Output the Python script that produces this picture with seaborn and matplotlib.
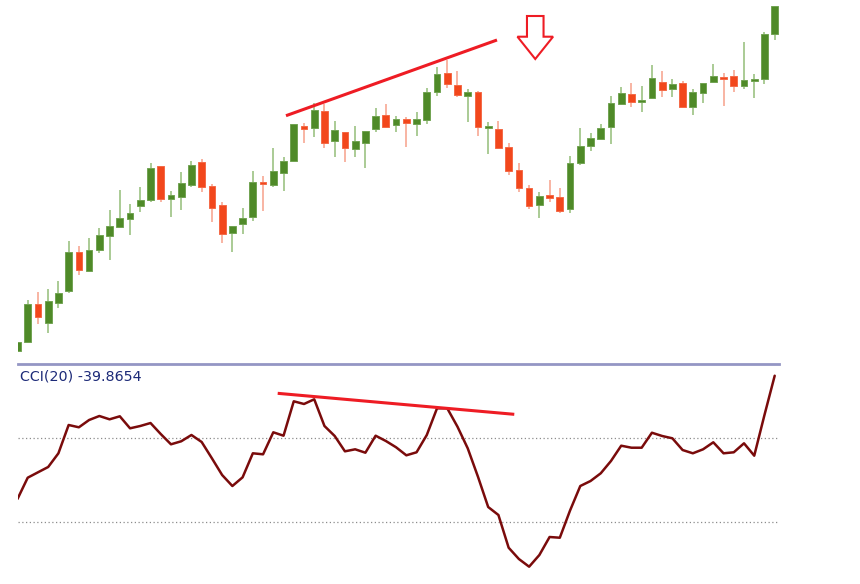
import numpy as np
import pandas as pd
import matplotlib
matplotlib.use("Agg")
import matplotlib.pyplot as plt
from matplotlib.patches import Polygon
import seaborn as sns

# ---------------- data (arbitrary price units) ----------------
opens = [9.5, 17.7, 56.0, 37.3, 56.7, 69.3, 107.7, 89.0, 110.3, 124.3,
         132.7, 140.7, 153.7, 160.0, 194.0, 160.7, 163.3, 175.0, 197.7, 174.3,
         155.3, 126.7, 136.3, 142.7, 176.7, 175.0, 187.0, 199.3, 234.0, 231.7,
         249.0, 219.0, 228.0, 211.3, 217.0, 230.7, 244.7, 234.7, 240.7, 236.0,
         240.3, 267.7, 287.3, 275.3, 264.0, 268.3, 232.3, 230.7, 212.7, 190.0,
         172.0, 155.0, 165.3, 162.7, 151.0, 196.7, 214.0, 221.3, 232.7, 255.7,
         266.3, 257.7, 261.7, 278.0, 271.0, 277.3, 252.7, 266.7, 277.7, 283.3,
         284.3, 274.0, 278.7, 281.3, 325.7]
highs = [18.5, 60.0, 68.3, 71.0, 79.0, 119.3, 114.0, 121.7, 132.0, 149.7,
         170.0, 155.7, 173.3, 197.3, 194.0, 169.0, 188.3, 199.0, 200.7, 175.7,
         157.7, 133.7, 152.3, 189.0, 184.0, 211.7, 203.3, 236.0, 236.7, 256.7,
         256.0, 239.3, 228.0, 234.0, 229.3, 251.7, 255.7, 244.0, 243.3, 248.3,
         271.7, 293.3, 300.0, 289.0, 270.7, 269.3, 238.3, 239.0, 216.7, 196.7,
         175.0, 168.3, 180.0, 171.7, 204.5, 231.7, 227.3, 235.7, 264.0, 272.7,
         277.3, 274.0, 295.0, 289.3, 280.7, 279.0, 271.0, 277.3, 295.7, 287.3,
         290.0, 317.7, 286.0, 328.0, 354.3]
lows = [9.0, 17.0, 36.0, 27.3, 51.7, 67.3, 85.0, 88.3, 107.3, 100.3,
        131.7, 125.0, 148.3, 158.3, 158.3, 143.3, 150.0, 173.3, 168.3, 137.7,
        116.7, 107.7, 126.0, 139.0, 149.0, 173.3, 169.3, 197.7, 217.3, 222.7,
        212.3, 203.3, 197.7, 203.3, 192.3, 228.3, 231.7, 227.7, 213.3, 224.0,
        236.0, 264.3, 271.7, 263.3, 238.3, 224.3, 206.0, 210.7, 185.0, 168.3,
        150.7, 141.7, 158.3, 146.7, 147.5, 195.0, 209.3, 220.7, 215.7, 255.0,
        252.7, 248.3, 261.0, 263.3, 262.7, 251.7, 245.0, 256.7, 277.3, 254.0,
        268.3, 270.7, 261.7, 276.0, 320.0]
closes = [18.3, 56.0, 42.7, 59.0, 67.3, 108.0, 89.7, 110.0, 124.7, 133.7,
          142.3, 147.0, 159.7, 192.3, 160.7, 165.0, 176.7, 195.0, 173.3, 152.3,
          126.0, 133.7, 142.3, 177.7, 176.0, 189.3, 199.3, 236.0, 231.0, 250.0,
          216.7, 230.3, 211.7, 219.3, 229.3, 244.0, 232.7, 240.7, 236.7, 240.7,
          268.3, 286.0, 276.0, 264.7, 267.7, 232.7, 233.7, 211.7, 189.3, 171.7,
          154.0, 164.3, 162.3, 149.3, 196.7, 214.0, 222.0, 232.3, 257.3, 266.7,
          258.3, 259.7, 281.7, 269.7, 276.3, 253.3, 267.7, 276.7, 284.3, 281.3,
          274.0, 280.0, 280.7, 325.7, 354.3]
cci = [-44.5, 6.2, 19.0, 31.7, 64.3, 131.7, 126.2, 143.6, 153.1, 145.2,
       152.4, 123.8, 129.3, 136.4, 110.2, 85.7, 92.9, 107.9, 91.2, 52.4,
       12.6, -13.6, 7.1, 64.3, 61.9, 114.3, 106.2, 188.1, 181.7, 192.9,
       129.3, 105.5, 69.0, 73.8, 65.7, 106.2, 93.6, 78.6, 59.5, 66.7,
       107.9, 171.4, 171.4, 127.6, 76.2, 8.6, -63.6, -82.6, -160.5, -187.4,
       -205.7, -177.9, -135.0, -136.7, -71.9, -13.6, -1.7, 16.7, 46.0, 82.4,
       77.6, 77.6, 113.3, 105.5, 100.0, 72.1, 64.3, 73.8, 90.5, 64.3,
       66.7, 88.1, 58.6, 155.5, 249.0]
cci_label = "CCI(20) -39.8654"
cci_levels = [100, -100]

# annotations (data units: candle index, price / CCI value)
price_trend_x = [26.24, 46.86]
price_trend_y = [244.3, 320.0]
cci_trend_x = [25.43, 48.55]
cci_trend_y = [207.1, 157.1]
arrow_center = 50.6
arrow_top, arrow_neck, arrow_tip = 344.0, 323.3, 301.0
arrow_shaft_half, arrow_head_half = 0.81, 1.74

# ---------------- styling ----------------
sns.set_theme(style="white")
plt.rcParams['font.family'] = ['DejaVu Sans']

GREEN, GREEN_EDGE, GREEN_WICK = "#4f8a28", "#72a453", "#93bd78"
RED, RED_EDGE, RED_WICK = "#f2471c", "#f46a47", "#f7a08a"
LINE_RED = "#ee1c24"

W, H = 860, 584
fig = plt.figure(figsize=(W / 100, H / 100), dpi=100)
fig.patch.set_facecolor("white")
left, right = 18.3, 779.0
ax_p = fig.add_axes([left / W, 1 - 360 / H, (right - left) / W, 360 / H])
ax_c = fig.add_axes([left / W, 0, (right - left) / W, (H - 364.3) / H])

df = pd.DataFrame({"idx": np.arange(len(opens)), "open": opens, "high": highs,
                   "low": lows, "close": closes, "cci": cci})
df["up"] = df["close"] >= df["open"]
df["bottom"] = df[["open", "close"]].min(axis=1)
df["height"] = (df["close"] - df["open"]).abs().clip(lower=1.6)

xlim = (0.08, 74.42)

# ---- candles ----
ax_p.vlines(df["idx"], df["low"], df["high"],
            colors=np.where(df["up"], GREEN_WICK, RED_WICK), linewidth=1.1, zorder=1)
ax_p.bar(df["idx"], df["height"], bottom=df["bottom"], width=0.66,
         color=np.where(df["up"], GREEN, RED),
         edgecolor=np.where(df["up"], GREEN_EDGE, RED_EDGE), linewidth=0.7, zorder=2)
ax_p.plot(price_trend_x, price_trend_y, color=LINE_RED, linewidth=2.2,
          solid_capstyle="butt", zorder=3)
c = arrow_center
arrow_pts = [(c - arrow_shaft_half, arrow_top), (c + arrow_shaft_half, arrow_top),
             (c + arrow_shaft_half, arrow_neck), (c + arrow_head_half, arrow_neck),
             (c, arrow_tip), (c - arrow_head_half, arrow_neck),
             (c - arrow_shaft_half, arrow_neck)]
ax_p.add_patch(Polygon(arrow_pts, closed=True, fill=False, edgecolor=LINE_RED,
                       linewidth=1.5, joinstyle="miter", zorder=3))
ax_p.set_xlim(*xlim)
ax_p.set_ylim(0, 360)
ax_p.axis("off")

# ---- CCI ----
for lv in cci_levels:
    ax_c.axhline(lv, color="#8c8c8c", linewidth=0.9, linestyle=(0, (1, 2)), zorder=1)
sns.lineplot(data=df, x="idx", y="cci", ax=ax_c, color="#7a0b0b", linewidth=1.8, zorder=2)
ax_c.plot(cci_trend_x, cci_trend_y, color=LINE_RED, linewidth=2.2,
          solid_capstyle="butt", zorder=3)
ax_c.set_xlim(*xlim)
ax_c.set_ylim(-246.9, 276.2)
ax_c.set_xticks([])
ax_c.set_yticks([])
ax_c.set_xlabel("")
ax_c.set_ylabel("")
ax_c.set_facecolor("none")
for s in ["left", "right", "bottom"]:
    ax_c.spines[s].set_visible(False)
ax_c.spines["top"].set_color("#9496c4")
ax_c.spines["top"].set_linewidth(2.0)

fig.text(20 / W, 1 - 376.5 / H, cci_label, ha="left", va="center",
         color="#1c2a78", fontsize=10.3)

fig.savefig("out.png", dpi=100, facecolor="white")
